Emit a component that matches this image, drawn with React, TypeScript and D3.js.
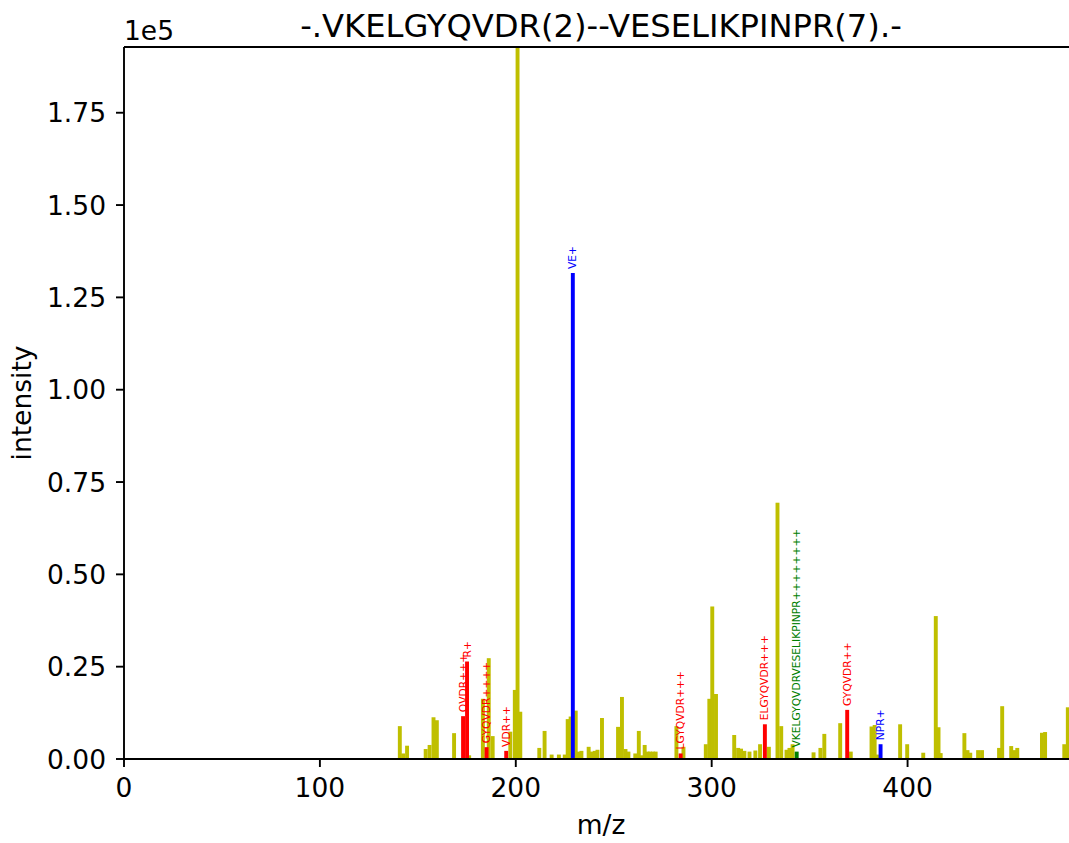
import React, { useEffect, useRef } from 'react';
import * as d3 from 'd3';

// unannotated peaks (m/z, intensity)
const peakMz = [
    140.8, 142.5, 144.5, 154, 156, 158, 159.7, 168.5, 176.2, 183.2, 186.2, 188.2,
    197.2, 199.5, 200.9, 202.3, 212, 214.7, 218.3, 222, 225, 226.5, 228, 230.6,
    232, 233.5, 237.2, 238.7, 240.3, 241.7, 244, 252.2, 254.2, 256, 257.5, 261,
    262.8, 264.3, 265.8, 267.3, 268.5, 270, 271.4, 282, 285.6, 297, 298.8, 300.3,
    302.2, 311.5, 313.5, 315, 316.7, 319.3, 322.3, 324.7, 329.2, 333.6, 335.5,
    338.2, 339.7, 341.3, 352, 355.5, 357.5, 365.6, 371, 381.6, 383.2, 384.6,
    396.2, 399.8, 408, 414.4, 415.8, 416.9, 429, 430.6, 432, 436, 438, 446.7,
    448.3, 452.9, 454.5, 456, 468.6, 470.2, 480, 481.8,
];
const peakIntensity = [
    8900, 1500, 3600, 2700, 3800, 11300, 10500, 7000, 1000, 16300, 27300, 6200,
    7400, 18700, 220000, 12800, 3000, 7600, 1200, 1200, 1200, 10800, 11500, 13100,
    2000, 2200, 3300, 2000, 2200, 2500, 11100, 8700, 16800, 2700, 2000, 1500,
    7600, 1000, 3800, 2000, 2000, 2000, 2000, 8900, 3300, 4000, 16300, 41300,
    17600, 6500, 3000, 2800, 2200, 2000, 2300, 4000, 3300, 69400, 8900,
    2500, 3000, 4000, 1800, 3000, 6800, 9700, 2000, 8800, 9200, 1200,
    9400, 4000, 1700, 38700, 8600, 1600, 7000, 2400, 1700, 2400, 2400, 3000,
    14300, 3500, 2400, 3000, 7100, 7300, 4000, 14000,
];

// annotated fragment peaks
const ionLabels = [
    'QVDR+++', 'R+', 'GYQVDR++++', 'VDR++', 'VE+', 'LGYQVDR+++', 'ELGYQVDR+++',
    'VKELGYQVDRVESELIKPINPR++++++++', 'GYQVDR++', 'NPR+',
];
const ionMz = [173.09, 175.12, 185.09, 195.11, 229.12, 284.15, 327.16, 343.4, 369.18, 386.21];
const ionIntensity = [11600, 26400, 3200, 2200, 131600, 1500, 9400, 2000, 13300, 4000];
const ionColors = ['red', 'red', 'red', 'red', 'blue', 'red', 'red', 'green', 'red', 'blue'];

const yTicks = [0, 25000, 50000, 75000, 100000, 125000, 150000, 175000];
const xTicks = [0, 100, 200, 300, 400];

const App = () => {
    const ref = useRef(null);

    const width = 1069;
    const height = 843;
    const margin = { top: 47, left: 124, bottom: 84 };
    const plotRight = 1078;

    useEffect(() => {
        drawChart();
    }, []);

    function drawChart() {
        const root = d3.select(ref.current);
        root.selectAll('*').remove();

        const x = d3.scaleLinear().domain([0, 487]).range([margin.left, plotRight]);
        const y = d3.scaleLinear().domain([0, 192800]).range([height - margin.bottom, margin.top]);
        const font = 'DejaVu Sans, sans-serif';
        const fs = '26.5px';

        root.append('clipPath')
            .attr('id', 'plot-clip')
            .append('rect')
            .attr('x', margin.left)
            .attr('y', margin.top)
            .attr('width', plotRight - margin.left)
            .attr('height', y(0) - margin.top);

        const plot = root.append('g').attr('clip-path', 'url(#plot-clip)');
        const barW = x(2) - x(0);

        plot.selectAll('.peak')
            .data(peakMz.map((m, i) => ({ mz: m, v: peakIntensity[i] })))
            .enter()
            .append('rect')
            .attr('x', (d) => x(d.mz) - barW / 2)
            .attr('width', barW)
            .attr('y', (d) => y(d.v))
            .attr('height', (d) => y(0) - y(d.v))
            .style('fill', '#bfbf00');

        const ions = ionMz.map((m, i) => ({
            mz: m, v: ionIntensity[i], label: ionLabels[i], color: ionColors[i],
        }));

        plot.selectAll('.ion')
            .data(ions)
            .enter()
            .append('rect')
            .attr('x', (d) => x(d.mz) - barW / 2)
            .attr('width', barW)
            .attr('y', (d) => y(d.v))
            .attr('height', (d) => y(0) - y(d.v))
            .style('fill', (d) => d.color);

        // ion labels, vertical, above each bar
        root.selectAll('.ion-label')
            .data(ions)
            .enter()
            .append('text')
            .attr('transform', (d) => `translate(${x(d.mz)}, ${y(d.v) - 4}) rotate(-90)`)
            .attr('dominant-baseline', 'central')
            .style('font-family', font)
            .style('font-size', '10.7px')
            .style('fill', (d) => d.color)
            .text((d) => d.label);

        // spines
        const axisColor = '#000';
        root.append('line')
            .attr('x1', margin.left).attr('x2', margin.left)
            .attr('y1', margin.top).attr('y2', y(0))
            .style('stroke', axisColor).style('stroke-width', 1.9);
        root.append('line')
            .attr('x1', margin.left).attr('x2', plotRight)
            .attr('y1', y(0)).attr('y2', y(0))
            .style('stroke', axisColor).style('stroke-width', 1.9);
        root.append('line')
            .attr('x1', margin.left).attr('x2', plotRight)
            .attr('y1', margin.top).attr('y2', margin.top)
            .style('stroke', axisColor).style('stroke-width', 1.9);

        // y ticks
        const yt = root.selectAll('.ytick').data(yTicks).enter().append('g');
        yt.append('line')
            .attr('x1', margin.left - 8).attr('x2', margin.left)
            .attr('y1', (d) => y(d)).attr('y2', (d) => y(d))
            .style('stroke', axisColor).style('stroke-width', 1.9);
        yt.append('text')
            .attr('x', margin.left - 18)
            .attr('y', (d) => y(d))
            .attr('text-anchor', 'end')
            .attr('dominant-baseline', 'central')
            .style('font-family', font)
            .style('font-size', fs)
            .text((d) => (d / 1e5).toFixed(2));

        // x ticks
        const xt = root.selectAll('.xtick').data(xTicks).enter().append('g');
        xt.append('line')
            .attr('x1', (d) => x(d)).attr('x2', (d) => x(d))
            .attr('y1', y(0)).attr('y2', y(0) + 8)
            .style('stroke', axisColor).style('stroke-width', 1.9);
        xt.append('text')
            .attr('x', (d) => x(d))
            .attr('y', y(0) + 38)
            .attr('text-anchor', 'middle')
            .style('font-family', font)
            .style('font-size', fs)
            .text((d) => d);

        root.append('text')
            .attr('x', margin.left)
            .attr('y', 40)
            .style('font-family', font)
            .style('font-size', fs)
            .text('1e5');

        root.append('text')
            .attr('x', (margin.left + plotRight) / 2)
            .attr('y', 37)
            .attr('text-anchor', 'middle')
            .style('font-family', font)
            .style('font-size', '32.2px')
            .text('-.VKELGYQVDR(2)--VESELIKPINPR(7).-');

        root.append('text')
            .attr('x', (margin.left + plotRight) / 2)
            .attr('y', 834)
            .attr('text-anchor', 'middle')
            .style('font-family', font)
            .style('font-size', fs)
            .text('m/z');

        root.append('text')
            .attr('transform', `translate(31, ${(margin.top + y(0)) / 2}) rotate(-90)`)
            .attr('text-anchor', 'middle')
            .style('font-family', font)
            .style('font-size', fs)
            .text('intensity');
    }

    return (
        <svg
            ref={ref}
            width={width}
            height={height}
            style={{ position: 'absolute', left: 0, top: 0, background: '#fff' }}
        />
    );
};

export default App;
